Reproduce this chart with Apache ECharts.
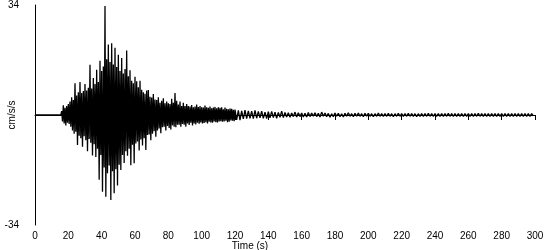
<!DOCTYPE html>
<html>
<head>
<meta charset="utf-8">
<script src="https://cdn.jsdelivr.net/npm/echarts@6/dist/echarts.min.js"></script>
<style>html,body{margin:0;padding:0;background:#fff}#c{width:550px;height:250px}</style>
</head>
<body>
<div id="c"></div>
<script>
// Tick labels
const xTicks = [0,20,40,60,80,100,120,140,160,180,200,220,240,260,280,300];
const yTicks = [-34, 34];

// Quiet pre-event segment (time in s, acceleration cm/s/s)
const preTimes = [0, 15.5];
const preValues = [0, 0];

// Strong-motion part: samples every 0.5 s from 16.0 s to 119.5 s
const burstStart = 16;
const burstStep = 0.5;
const burstValues = [
  1.2,-2.0,3.0,-2.6,2.2,-3.2,2.8,-2.4,3.4,-2.8,
  4.2,-3.6,5.5,-4.8,4.6,-5.8,9.8,-5.2,6.0,-9.3,
  7.0,-6.4,10.2,-7.2,6.8,-9.8,7.4,-6.6,9.6,-7.8,
  7.6,-11.2,8.4,-7.4,15.5,-8.6,8.2,-12.5,11.4,-9.0,
  9.6,-13.0,14.0,-10.4,10.2,-20.0,16.8,-12.4,13.6,-23.7,
  15.0,-16.2,33.7,-25.3,17.2,-18.0,21.8,-15.6,16.4,-26.3,
  22.2,-17.4,15.6,-24.2,20.8,-16.8,14.8,-21.8,18.6,-15.4,
  13.6,-17.0,17.6,-12.4,12.8,-14.8,14.2,-11.2,19.9,-12.6,
  12.0,-10.4,13.8,-15.5,10.6,-9.2,9.8,-14.9,11.8,-8.8,
  10.4,-8.2,8.6,-11.0,10.6,-7.6,7.8,-9.4,7.0,-7.2,
  6.6,-10.8,7.6,-6.2,7.7,-6.0,5.6,-7.8,5.4,-5.8,
  6.5,-5.0,4.8,-6.7,4.6,-4.8,5.5,-4.2,3.8,-5.6,
  4.4,-3.8,5.2,-3.6,3.6,-4.8,4.2,-3.4,3.6,-4.0,
  3.4,-4.5,5.0,-3.2,3.8,-3.6,6.8,-3.8,4.4,-3.0,
  3.2,-3.0,4.2,-3.6,2.8,-2.8,3.8,-3.0,2.8,-3.6,
  3.4,-2.6,2.8,-3.1,2.6,-2.4,3.1,-3.2,2.4,-2.6,
  2.6,-2.9,3.2,-2.4,2.5,-2.7,2.8,-2.3,2.4,-2.6,
  2.3,-2.5,2.9,-2.2,2.4,-2.6,2.2,-2.1,2.6,-2.3,
  2.1,-2.4,2.3,-2.0,2.5,-2.2,2.1,-2.3,2.4,-2.0,
  2.2,-1.9,2.4,-2.1,1.8,-2.0,2.3,-1.8,1.9,-2.2,
  1.8,-2.1,2.0,-1.7,1.9,-1.8,1.6,-1.9
];

// Coda: samples every 1 s from 120 s to 299 s
const codaStart = 120;
const codaStep = 1;
const codaValues = [
  1.7,-1.5,1.4,-1.6,1.3,-1.2,1.5,-1.1,1.3,-1.0,
  1.2,-1.1,1.4,-1.0,1.1,-0.9,1.2,-1.0,0.9,-1.1,
  1.0,-0.9,1.1,-0.8,0.9,-1.0,0.8,-0.7,1.2,-0.8,
  0.8,-0.6,0.7,-0.7,0.6,-0.5,0.9,-0.6,0.7,-0.5,
  0.6,-0.6,0.5,-0.6,0.8,-0.5,0.6,-0.4,0.7,-0.5,
  0.5,-0.6,0.9,-0.4,0.6,-0.5,0.5,-0.7,0.4,-0.5,
  0.6,-0.4,0.5,-0.5,0.4,-0.6,0.5,-0.4,0.7,-0.4,
  0.4,-0.5,0.5,-0.4,0.6,-0.4,0.4,-0.5,0.5,-0.4,
  0.5,-0.4,0.4,-0.5,0.4,-0.4,0.6,-0.4,0.4,-0.4,
  0.4,-0.4,0.5,-0.4,0.4,-0.5,0.4,-0.4,0.5,-0.4,
  0.4,-0.4,0.4,-0.4,0.5,-0.4,0.4,-0.4,0.4,-0.5,
  0.4,-0.4,0.4,-0.4,0.4,-0.4,0.5,-0.4,0.4,-0.4,
  0.4,-0.4,0.4,-0.4,0.4,-0.4,0.4,-0.4,0.5,-0.4,
  0.4,-0.4,0.4,-0.4,0.4,-0.4,0.4,-0.4,0.4,-0.4,
  0.4,-0.4,0.4,-0.4,0.4,-0.4,0.5,-0.4,0.4,-0.4,
  0.4,-0.4,0.4,-0.4,0.4,-0.4,0.4,-0.4,0.4,-0.4,
  0.4,-0.4,0.4,-0.4,0.4,-0.4,0.4,-0.4,0.4,-0.4,
  0.4,-0.4,0.4,-0.4,0.4,-0.4,0.4,-0.4,0.4,-0.3
];

const data = [];
preTimes.forEach((t, i) => data.push([t, preValues[i]]));
burstValues.forEach((v, i) => data.push([burstStart + i * burstStep, v]));
codaValues.forEach((v, i) => data.push([codaStart + i * codaStep, v]));

const font = '"Liberation Sans", Arial, sans-serif';
const chart = echarts.init(document.getElementById('c'), null, {renderer: 'canvas'});
chart.setOption({
  animation: false,
  backgroundColor: '#fff',
  grid: {left: 35, right: 15, top: 5, bottom: 25, containLabel: false, outerBoundsMode: 'none'},
  xAxis: {
    type: 'value', min: xTicks[0], max: xTicks[xTicks.length - 1], interval: 20,
    name: 'Time (s)', nameLocation: 'middle', nameGap: 16, nameMoveOverlap: false,
    nameTextStyle: {color: '#000', fontSize: 10, fontFamily: font, padding: [0, 70, 0, 0]},
    axisLine: {lineStyle: {color: '#000', width: 1}},
    axisTick: {show: true, length: 5, lineStyle: {color: '#000'}},
    axisLabel: {color: '#000', fontSize: 10, fontFamily: font, margin: 6},
    splitLine: {show: false}
  },
  yAxis: {
    type: 'value', min: yTicks[0], max: yTicks[1], interval: 34,
    name: 'cm/s/s', nameLocation: 'middle', nameGap: 18, nameRotate: 90, nameMoveOverlap: false,
    nameTextStyle: {color: '#000', fontSize: 10, fontFamily: font},
    axisLine: {show: true, lineStyle: {color: '#000', width: 1}},
    axisTick: {show: false},
    axisLabel: {color: '#000', fontSize: 10, fontFamily: font, margin: 16,
      formatter: v => (yTicks.indexOf(v) >= 0 ? String(v) : '')},
    splitLine: {show: false}
  },
  series: [{
    type: 'line', data: data, showSymbol: false, symbol: 'none',
    sampling: null, silent: true,
    lineStyle: {color: '#000', width: 1.3}
  }]
});
</script>
</body>
</html>
